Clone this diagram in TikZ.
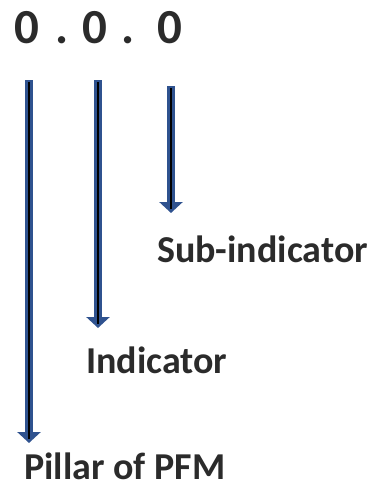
\documentclass[tikz,border=0pt]{standalone}
\usepackage{fontspec}
\setmainfont{Carlito}
\usetikzlibrary{arrows.meta,calc}
\definecolor{arrowblue}{HTML}{2F528F}
\definecolor{inktext}{HTML}{2B2B2B}
\tikzset{
  digit/.style={inner sep=0pt, anchor=base, text=inktext, font=\fontsize{49}{49}\selectfont\bfseries},
  label/.style={inner sep=0pt, text depth=0pt, anchor=base west, text=inktext, font=\fontsize{38}{38}\selectfont\bfseries},
  shaft/.style={draw=arrowblue, line width=8pt, -{Triangle[width=23pt,length=11pt]}},
  core/.style={draw=black, line width=2.4pt, shorten <=2pt, shorten >=4pt}
}
\begin{document}
\begin{tikzpicture}[x=1pt,y=1pt]
  \useasboundingbox (0,0) rectangle (371,-488);
  % version number
  \node[digit] (d1) at (27,-43) {0};
  \node[digit] (p1) at (62,-43) {.};
  \node[digit] (d2) at (95,-43) {0};
  \node[digit] (p2) at (128,-43) {.};
  \node[digit] (d3) at (170,-43) {0};
  % labels
  \node[label] (sub) at (157,-262) {Sub-indicator};
  \node[label] (ind) at (86,-373) {Indicator};
  \node[label] (pil) at (24,-479) {Pillar of PFM};
  % arrow end points
  \coordinate (a1s) at (29,-80);
  \coordinate (a1e) at (29,-443);
  \coordinate (a2s) at (98,-80);
  \coordinate (a2e) at (98,-328);
  \coordinate (a3s) at (171,-86);
  \coordinate (a3e) at (171,-213);
  % arrows
  \foreach \s/\e in {a1s/a1e, a2s/a2e, a3s/a3e} {
    \draw[shaft] (\s) -- (\e);
    \draw[core] (\s) -- (\e);
  }
\end{tikzpicture}
\end{document}
